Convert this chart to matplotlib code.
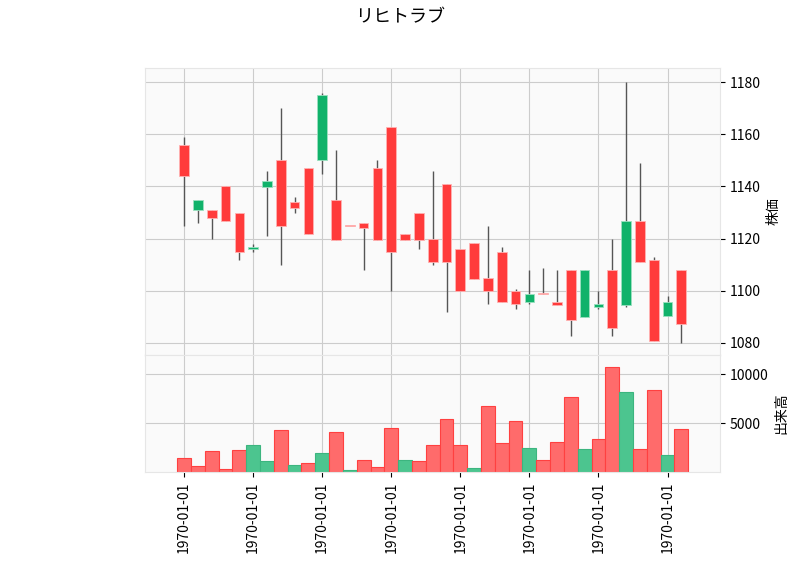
import numpy as np
import matplotlib.pyplot as plt

plt.rcParams['font.family'] = 'Noto Sans CJK JP'

opens = [1143.9, 1134.9, 1131.1, 1126.6, 1129.9, 1116.9, 1142.2, 1124.7, 1134.2, 1121.6,
         1175.1, 1119.6, 1125.0, 1123.9, 1119.6, 1114.7, 1119.6, 1119.6, 1110.9, 1110.9,
         1099.8, 1104.6, 1099.8, 1095.6, 1094.8, 1098.9, 1098.8, 1094.7, 1088.7, 1108.1,
         1095.1, 1085.6, 1126.9, 1110.9, 1080.6, 1095.8, 1087.4]
closes = [1156.0, 1130.8, 1127.8, 1140.0, 1114.7, 1115.9, 1139.6, 1150.2, 1131.6, 1147.2,
          1150.0, 1134.9, 1125.0, 1126.1, 1147.2, 1162.9, 1121.9, 1129.9, 1119.8, 1141.0,
          1116.1, 1118.2, 1105.0, 1115.0, 1100.0, 1095.6, 1098.8, 1095.8, 1108.1, 1089.9,
          1093.7, 1108.1, 1094.7, 1126.9, 1111.9, 1090.5, 1108.1]
highs = [1158.8, 1134.9, 1131.1, 1140.0, 1129.9, 1117.9, 1145.8, 1169.9, 1135.9, 1147.2,
         1175.8, 1153.9, 1125.0, 1126.1, 1150.1, 1162.9, 1121.9, 1129.9, 1145.9, 1141.0,
         1116.1, 1118.2, 1124.8, 1116.8, 1100.8, 1108.0, 1108.7, 1108.0, 1108.1, 1108.1,
         1099.8, 1119.8, 1180.0, 1148.8, 1112.8, 1097.9, 1108.1]
lows = [1125.0, 1126.0, 1119.8, 1126.6, 1111.8, 1115.0, 1121.1, 1110.0, 1129.8, 1121.6,
        1144.8, 1119.6, 1125.0, 1108.1, 1119.6, 1100.0, 1119.6, 1116.0, 1109.9, 1091.9,
        1099.8, 1104.6, 1095.0, 1095.6, 1093.0, 1095.0, 1098.8, 1094.7, 1082.8, 1089.9,
        1093.0, 1082.8, 1093.8, 1110.9, 1080.6, 1090.5, 1080.0]
candle_red = [1, 0, 1, 1, 1, 0, 0, 1, 1, 1, 0, 1, 1, 1, 1, 1, 1, 1, 1, 1,
              1, 1, 1, 1, 1, 0, 1, 1, 1, 0, 0, 1, 0, 1, 1, 0, 1]
volumes = [1395, 612, 2143, 306, 2245, 2755, 1122, 4252, 714, 918,
           1939, 4082, 204, 1224, 510, 4490, 1224, 1122, 2755, 5408,
           2755, 408, 6735, 2959, 5204, 2449, 1224, 3061, 7653, 2347,
           3367, 10714, 8163, 2347, 8367, 1735, 4388]
volume_red = [1, 1, 1, 1, 1, 0, 0, 1, 0, 1, 0, 1, 0, 1, 1, 1, 0, 1, 1, 1,
              1, 0, 1, 1, 1, 0, 1, 1, 1, 0, 1, 1, 0, 1, 1, 0, 1]
tick_label = '1970-01-01'

fig = plt.figure(figsize=(8, 5.75), dpi=100)
ax = fig.add_axes([145/800, 1-355/575, 575/800, 287/575])
axv = fig.add_axes([145/800, 1-472/575, 575/800, 117/575], sharex=ax)

x = np.arange(len(opens))
for a in (ax, axv):
    a.set_facecolor('#fafafa')
    a.grid(True, color='#cccccc', linewidth=0.8)
    a.set_axisbelow(True)
    a.yaxis.tick_right()
    a.yaxis.set_label_position('right')
    for s in a.spines.values():
        s.set_color('#e6e6e6')

for i in x:
    red = candle_red[i]
    fc = '#ff3b3b' if red else '#10b26a'
    ax.vlines(i, lows[i], highs[i], color='#555555', linewidth=1, zorder=2)
    lo, hi = min(opens[i], closes[i]), max(opens[i], closes[i])
    ax.bar(i, max(hi - lo, 0.4), bottom=lo, width=0.7, color=fc,
           edgecolor='#ffb3b3' if red else '#9be0c0', linewidth=0.6, zorder=3)

vcol = ['#ff6b6b' if r else '#4cc58f' for r in volume_red]
vedge = ['#ff4040' if r else '#3cb57f' for r in volume_red]
axv.bar(x, volumes, width=1.0, color=vcol, edgecolor=vedge, linewidth=0.8)

ax.set_xlim(-2.83, 38.8)
ax.set_ylim(1075.4, 1185.4)
ax.set_yticks([1080, 1100, 1120, 1140, 1160, 1180])
axv.set_ylim(0, 11940)
axv.set_yticks([5000, 10000])
ax.set_ylabel('株価')
axv.set_ylabel('出来高')
axv.set_xticks(x[::5])
axv.set_xticklabels([tick_label] * len(x[::5]), rotation=90)
plt.setp(ax.get_xticklabels(), visible=False)
ax.tick_params(axis='x', length=0)
fig.suptitle('リヒトラブ', x=0.5, y=0.985, fontsize=13)

fig.savefig('out.png')
